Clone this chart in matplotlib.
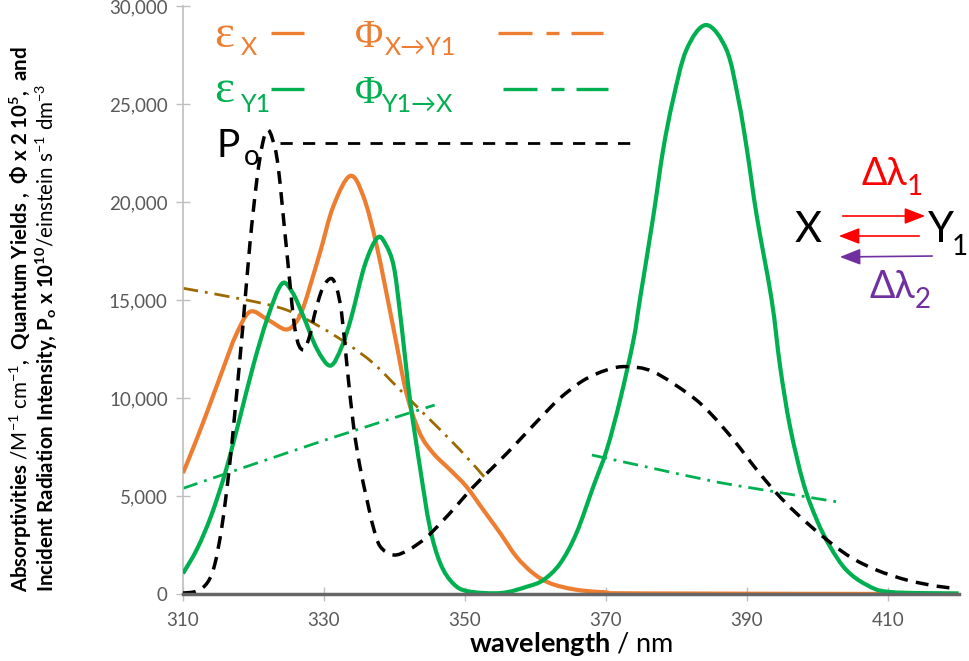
import matplotlib
matplotlib.use('Agg')
import matplotlib.pyplot as plt
import numpy as np
from matplotlib.lines import Line2D
from matplotlib.patches import FancyArrowPatch, PathPatch
from matplotlib.path import Path
from matplotlib.ticker import FuncFormatter

plt.rcParams['font.family'] = ['Lato', 'DejaVu Sans']
plt.rcParams['mathtext.fontset'] = 'custom'
plt.rcParams['mathtext.rm'] = 'Lato'
plt.rcParams['mathtext.bf'] = 'Lato:bold'
plt.rcParams['mathtext.it'] = 'Lato:italic'

W, H = 969, 661

# absorptivity of X (orange)
wl_eps_x = [310, 312, 314, 316, 317.5, 319.5, 322.0, 324.5, 325.9, 327.1, 329.4, 331.3,
            333.7, 335.6, 337.5, 339.9, 341.7, 343.6, 345.5, 347.9, 350.2, 352.6, 355.0,
            357.3, 359.7, 362.1, 365.4, 369.2, 375, 420]
eps_x = [6170, 7950, 9850, 11800, 13200, 14400, 14000, 13500, 13810, 14660, 17380, 19760,
         21330, 20270, 17720, 13470, 10240, 8200, 7180, 6330, 5480, 4290, 3100,
         1900, 1050, 545, 240, 100, 30, 0]

# absorptivity of Y1 (green)
wl_eps_y = [310, 312, 314, 316, 318, 320, 322, 324.0, 325.5, 327.1, 329.0, 330.9,
            332.5, 333.9, 335.8, 337.6, 338.8, 339.9, 340.8, 342.2, 343.6, 345.0, 346.5,
            348.3, 350.4, 355.1, 358.8, 361.1, 363.5, 365.8, 368.2, 370.1, 372.0, 373.9,
            374.8, 376.7, 378.1, 379.5, 381.4, 384.2, 387.1, 388.8, 390.0, 391.4, 393.5,
            394.7, 396.1, 398.0, 399.9, 401.8, 404.1, 407.0, 410.3, 420]
eps_y = [1050, 2300, 4000, 6200, 8900, 11700, 14100, 15820, 15400, 14150, 12500, 11650,
         12600, 14150, 16800, 18180, 17800, 16700, 14300, 9900, 6500, 3430, 1560,
         545, 140, 50, 375, 710, 1560, 3100, 5480, 7350, 9900, 12960,
         15000, 19250, 22650, 25200, 27760, 29030, 27760, 25200, 22650, 19250, 15000,
         11600, 8540, 5650, 3780, 2410, 1220, 460, 100, 30]

# incident radiation intensity P_o (black dashed)
wl_po = [310, 312, 313.5, 314.5, 315.5, 316.5, 317.5, 318.5, 319.5, 320.5, 321.3, 322.0,
         322.7, 323.5, 324.7, 325.9, 327.0, 328.0, 328.7, 329.8, 331.0, 331.8, 332.5, 333.3,
         334.2, 335.1, 336.1, 337.0, 338.0, 339.9, 342.0, 344.4, 346.5, 348.8, 351.0,
         353.5, 356.0, 358.5, 361.0, 363.5, 366.8, 370.1, 372.9, 376.7, 381.9, 384.8,
         388.1, 391.4, 394.2, 397.0, 400.8, 404.6, 408.4, 412.7, 416.9, 419.7]
po = [50, 150, 600, 1500, 3400, 6200, 9800, 13700, 17900, 21200, 23000, 23670,
      23200, 21800, 17550, 13470, 12450, 13200, 14320, 15600, 16100, 15600, 14320, 11500,
      8540, 6500, 4800, 3400, 2410, 1990, 2250, 2850, 3600, 4500, 5400,
      6300, 7200, 8150, 9100, 10000, 10900, 11430, 11600, 11340, 10150, 9220,
      7860, 6330, 5140, 4120, 2920, 1900, 1220, 710, 400, 290]

# quantum yields x 2e5 (dash-dot)
wl_phi_xy = [310, 319.0, 324.7, 329.4, 333.2, 337.0, 340.8, 344.6, 349.3, 353.1]
phi_xy = [15600, 15000, 14490, 13640, 12790, 11770, 10410, 9050, 7350, 5820]
wl_phi_yx_a = [310, 330.2, 345.7]
phi_yx_a = [5390, 7860, 9640]
wl_phi_yx_b = [368.0, 377.7, 382.6, 388.1, 403.2]
phi_yx_b = [7090, 6330, 5950, 5560, 4680]

po_level = 23000
po_span = [323.8, 373.6]

ORANGE = '#ED7D31'
GREEN = '#00B050'
BROWN = '#9C6A00'
RED = '#FF0000'
PURPLE = '#7030A0'
AXGRAY = '#BFBFBF'
TXTGRAY = '#595959'


def smooth_line(ax, xs, ys, **kw):
    # excel-style smoothed line: bezier segments through the points
    p = np.column_stack([xs, ys]).astype(float)
    n = len(p)
    verts = [p[0]]
    codes = [Path.MOVETO]
    for i in range(n - 1):
        p0 = p[max(i - 1, 0)]
        p3 = p[min(i + 2, n - 1)]
        c1 = p[i] + (p[i + 1] - p0) / 6
        c2 = p[i + 1] - (p3 - p[i]) / 6
        verts += [c1, c2, p[i + 1]]
        codes += [Path.CURVE4] * 3
    ax.add_patch(PathPatch(Path(verts, codes), fill=False, capstyle='butt', **kw))


fig = plt.figure(figsize=(W / 100, H / 100), dpi=100)
ax = fig.add_axes([183 / W, (H - 594) / H, 775.5 / W, 588 / H])

dashdot = (0, (5.5, 2.5, 1, 2.5))
smooth_line(ax, wl_phi_xy, phi_xy, edgecolor=BROWN, lw=2, linestyle=dashdot, zorder=2)
smooth_line(ax, wl_phi_yx_a, phi_yx_a, edgecolor=GREEN, lw=2, linestyle=dashdot, zorder=2)
smooth_line(ax, wl_phi_yx_b, phi_yx_b, edgecolor=GREEN, lw=2, linestyle=dashdot, zorder=2)
smooth_line(ax, wl_eps_x, eps_x, edgecolor=ORANGE, lw=3, zorder=3)
smooth_line(ax, wl_eps_y, eps_y, edgecolor=GREEN, lw=3, zorder=4)
smooth_line(ax, wl_po, po, edgecolor='black', lw=2.5, linestyle=(0, (3.7, 2.4)), zorder=5)
ax.plot(po_span, [po_level, po_level], color='black', lw=2, linestyle=(0, (4.4, 3.7)), zorder=5)

ax.set_xlim(310, 420)
ax.set_ylim(0, 30000)
ax.set_xticks(range(310, 420, 20))
ax.set_yticks(range(0, 30001, 5000))
ax.yaxis.set_major_formatter(FuncFormatter(lambda v, p: f'{int(v):,}'))
for s in ['top', 'right']:
    ax.spines[s].set_visible(False)
ax.spines['left'].set_color(AXGRAY)
ax.spines['left'].set_linewidth(1.2)
ax.spines['bottom'].set_color('#666666')
ax.spines['bottom'].set_linewidth(2.5)
ax.spines['bottom'].set_zorder(6)
ax.tick_params(axis='both', direction='inout', length=10, width=1, color=AXGRAY,
               labelsize=13.5, labelcolor=TXTGRAY)
ax.tick_params(axis='y', pad=6)
ax.tick_params(axis='x', pad=8)

ax.set_xlabel(r'wavelength $\mathrm{/\ nm}$', fontsize=19.5, fontweight='bold', labelpad=1)


def px(x, y):
    return x / W, 1 - y / H


# y label, two rotated lines
l1 = (r'Absorptivities $\mathrm{/M^{-1}\ cm^{-1}}$,  Quantum Yields ,  '
      r'Φ x 2 10$^{\mathbf{5}}$,  and')
l2 = (r'Incident Radiation Intensity, P$_{\mathbf{o}}$ x 10$^{\mathbf{10}}$'
      r'$\mathrm{/einstein\ s^{-1}\ dm^{-3}}$')
fig.text(*px(21, 592), l1, rotation=90, rotation_mode='anchor', ha='left', va='center',
         fontsize=14.8, fontweight='bold')
fig.text(*px(47, 592), l2, rotation=90, rotation_mode='anchor', ha='left', va='center',
         fontsize=14.8, fontweight='bold')

# legend text and line samples
serif = ['Liberation Serif', 'DejaVu Serif']
fig.text(*px(214, 47), 'ε', color=ORANGE, fontsize=34, family=serif, va='baseline')
fig.text(*px(241, 55), 'X', color=ORANGE, fontsize=18, va='baseline')
fig.text(*px(355, 47), 'Φ', color=ORANGE, fontsize=28, family=serif, va='baseline')
fig.text(*px(385, 55), 'X→Y1', color=ORANGE, fontsize=18, va='baseline')
fig.text(*px(214, 102), 'ε', color=GREEN, fontsize=34, family=serif, va='baseline')
fig.text(*px(241, 112), 'Y1', color=GREEN, fontsize=18, va='baseline')
fig.text(*px(355, 103), 'Φ', color=GREEN, fontsize=28, family=serif, va='baseline')
fig.text(*px(382, 112), 'Y1→X', color=GREEN, fontsize=18, va='baseline')
fig.text(*px(216, 157), 'P', color='black', fontsize=28, va='baseline')
fig.text(*px(244, 165), 'o', color='black', fontsize=20, va='baseline')

for color, y, x0 in [(ORANGE, 33, 498), (GREEN, 89, 503)]:
    for a, b in [(0, 34), (48, 61), (73, 105)]:
        fig.add_artist(Line2D([(x0 + a) / W, (x0 + b) / W], [1 - y / H, 1 - y / H],
                              color=color, lw=2.4, solid_capstyle='butt'))
for y in [33, 89]:
    fig.add_artist(Line2D([271 / W, 304 / W], [1 - y / H, 1 - y / H],
                          color=ORANGE if y == 33 else GREEN, lw=2.4, solid_capstyle='butt'))

# reaction scheme
fig.text(*px(808, 242), 'X', fontsize=30, ha='center', va='baseline')
fig.text(*px(928, 242), 'Y', fontsize=30, va='baseline')
fig.text(*px(952, 255), '1', fontsize=20, va='baseline')
fig.text(*px(861, 185), 'Δλ', color=RED, fontsize=27, va='baseline')
fig.text(*px(907, 195), '1', color=RED, fontsize=20, va='baseline')
fig.text(*px(869, 298), 'Δλ', color=PURPLE, fontsize=27, va='baseline')
fig.text(*px(915, 308), '2', color=PURPLE, fontsize=20, va='baseline')

for (xa, ya), (xb, yb), c in [((840, 216), (928, 216), RED),
                              ((922, 236), (836, 236), RED),
                              ((935, 256), (837, 257), PURPLE)]:
    fig.add_artist(FancyArrowPatch(px(xa, ya), px(xb, yb), transform=fig.transFigure,
                                   arrowstyle='-|>,head_length=0.9,head_width=0.35',
                                   mutation_scale=14, color=c, lw=1.2))

fig.savefig('out.png', dpi=100)
